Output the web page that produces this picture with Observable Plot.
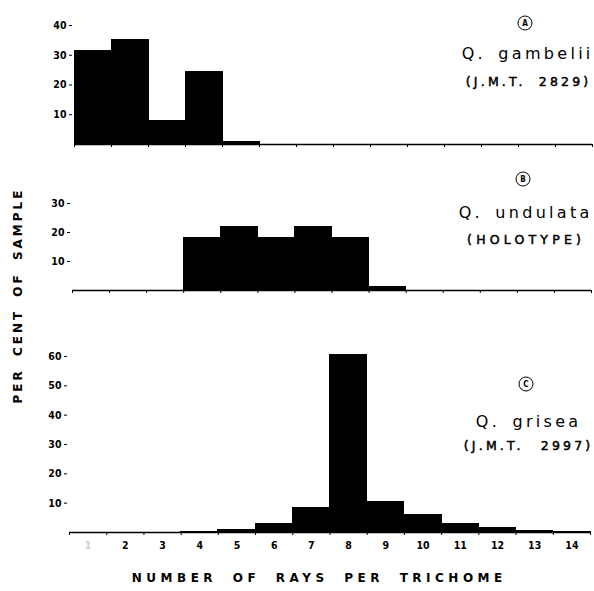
<!DOCTYPE html>
<html><head><meta charset="utf-8">
<script src="https://cdn.jsdelivr.net/npm/d3@7"></script>
<script src="https://cdn.jsdelivr.net/npm/@observablehq/plot@0.6"></script>
<style>
body{margin:0;background:#fff;}
#wrap{position:relative;width:594px;height:591px;font-family:"DejaVu Sans",sans-serif;color:#000;background:#fff}
.p{position:absolute;left:0}
.lbl{position:absolute;white-space:nowrap;transform:translate(-50%,-50%);line-height:1}
.circ{position:absolute;width:15px;height:15px;border:1.3px solid #000;border-radius:50%;transform:translate(-50%,-50%);font-size:8px;font-weight:bold;display:flex;align-items:center;justify-content:center;box-sizing:border-box;font-family:"DejaVu Sans Condensed","DejaVu Sans",sans-serif}
</style></head><body><div id="wrap"></div>
<script>
// ---- data ----
const rays = [1, 2, 3, 4, 5, 6, 7, 8, 9, 10, 11, 12, 13, 14];
const gambelii = [31.5, 35, 8, 24.5, 1, 0, 0, 0, 0, 0, 0, 0, 0, 0];
const undulata = [0, 0, 0, 18.2, 21.8, 18.2, 21.8, 18.2, 1.3, 0, 0, 0, 0, 0];
const grisea   = [0, 0, 0, 0.3, 0.7, 3, 8.2, 60.5, 10.5, 6.1, 2.8, 1.4, 0.4, 0.2];
const binEdges = [0.5, 1.5, 2.5, 3.5, 4.5, 5.5, 6.5, 7.5, 8.5, 9.5, 10.5, 11.5, 12.5, 13.5, 14.5];
const yTicksA = [10, 20, 30, 40];
const yTicksB = [10, 20, 30];
const yTicksC = [10, 20, 30, 40, 50, 60];
const letters = ["A", "B", "C"];
const species = ["Q. gambelii", "Q. undulata", "Q. grisea"];
const sources = ["(J.M.T. 2829)", "(HOLOTYPE)", "(J.M.T. 2997)"];
const xTitle = "NUMBER OF RAYS PER TRICHOME";
const yTitle = "PER CENT OF SAMPLE";

// ---- layout ----
const panels = [
  {values: gambelii, yTicks: yTicksA, yMax: 40, top: 0,   height: 160, mt: 25, mb: 16, ml: 74, mr: 2, labels: false,
   circ: [525, 23], sp: [526, 54], src: [527, 82], srcLs: 3.2, srcWs: 6},
  {values: undulata, yTicks: yTicksB, yMax: 30, top: 160, height: 145, mt: 43, mb: 15, ml: 72, mr: 3, labels: false,
   circ: [523, 179], sp: [524, 213], src: [524, 240], srcLs: 4.2, srcWs: 4},
  {values: grisea,   yTicks: yTicksC, yMax: 60, top: 300, height: 262, mt: 56, mb: 30, ml: 69, mr: 4, labels: true,
   circ: [526, 384], sp: [527, 422], src: [527, 446], srcLs: 3.2, srcWs: 10}
];

const wrap = document.getElementById("wrap");
const tickFont = '"Liberation Sans Narrow","DejaVu Sans Condensed",sans-serif';

panels.forEach((p, i) => {
  const table = rays.map((r, j) => ({ray: r, v: p.values[j]})).filter(d => d.v > 0);
  const marks = [
    Plot.rectY(table, {x1: d => d.ray - 0.5, x2: d => d.ray + 0.5, y: "v", fill: "black", stroke: "black", strokeWidth: 1, shapeRendering: "crispEdges"}),
    Plot.ruleY([0], {stroke: "black", strokeWidth: 1.5}),
    Plot.axisX({ticks: binEdges, tickSize: 3, tickFormat: () => "", stroke: "black"}),
    Plot.axisY({ticks: p.yTicks, tickSize: 3, tickPadding: 3, dx: -2, stroke: "black", fill: "black"})
  ];
  if (p.labels) {
    marks.push(Plot.axisX({ticks: rays.slice(1), tickSize: 0, tickPadding: 9, fill: "black"}));
    marks.push(Plot.axisX({ticks: rays.slice(0, 1), tickSize: 0, tickPadding: 9, fill: "#d0d0d0"}));
  }
  const chart = Plot.plot({
    width: 594, height: p.height,
    marginTop: p.mt, marginBottom: p.mb, marginLeft: p.ml, marginRight: p.mr,
    x: {domain: [0.5, 14.5], label: null},
    y: {domain: [0, p.yMax], label: null},
    style: {fontFamily: tickFont, fontSize: "10.5px", fontWeight: "bold", background: "transparent", color: "black"},
    marks
  });
  chart.classList.add("p");
  chart.style.top = p.top + "px";
  wrap.appendChild(chart);

  const c = document.createElement("div");
  c.className = "circ";
  c.style.left = p.circ[0] + "px"; c.style.top = p.circ[1] + "px";
  c.textContent = letters[i];
  wrap.appendChild(c);

  const s = document.createElement("div");
  s.className = "lbl";
  s.style.cssText += `left:${p.sp[0]}px;top:${p.sp[1]}px;font-size:16px;letter-spacing:3.3px;padding-left:3.3px;word-spacing:4px;`;
  s.textContent = species[i];
  wrap.appendChild(s);

  const r = document.createElement("div");
  r.className = "lbl";
  r.style.cssText += `left:${p.src[0]}px;top:${p.src[1]}px;font-size:12.5px;letter-spacing:${p.srcLs}px;padding-left:${p.srcLs}px;word-spacing:${p.srcWs}px;-webkit-text-stroke:0.5px #000;`;
  r.textContent = sources[i];
  wrap.appendChild(r);
});

const xt = document.createElement("div");
xt.className = "lbl";
xt.style.cssText += "left:317px;top:578px;font-size:12px;font-weight:bold;letter-spacing:4.5px;padding-left:4.5px;word-spacing:7px;";
xt.textContent = xTitle;
wrap.appendChild(xt);

const yt = document.createElement("div");
yt.className = "lbl";
yt.style.cssText += "left:18px;top:297px;font-size:12px;font-weight:bold;letter-spacing:3px;padding-left:3px;word-spacing:5px;transform:translate(-50%,-50%) rotate(-90deg);";
yt.textContent = yTitle;
wrap.appendChild(yt);
</script>
</body></html>
